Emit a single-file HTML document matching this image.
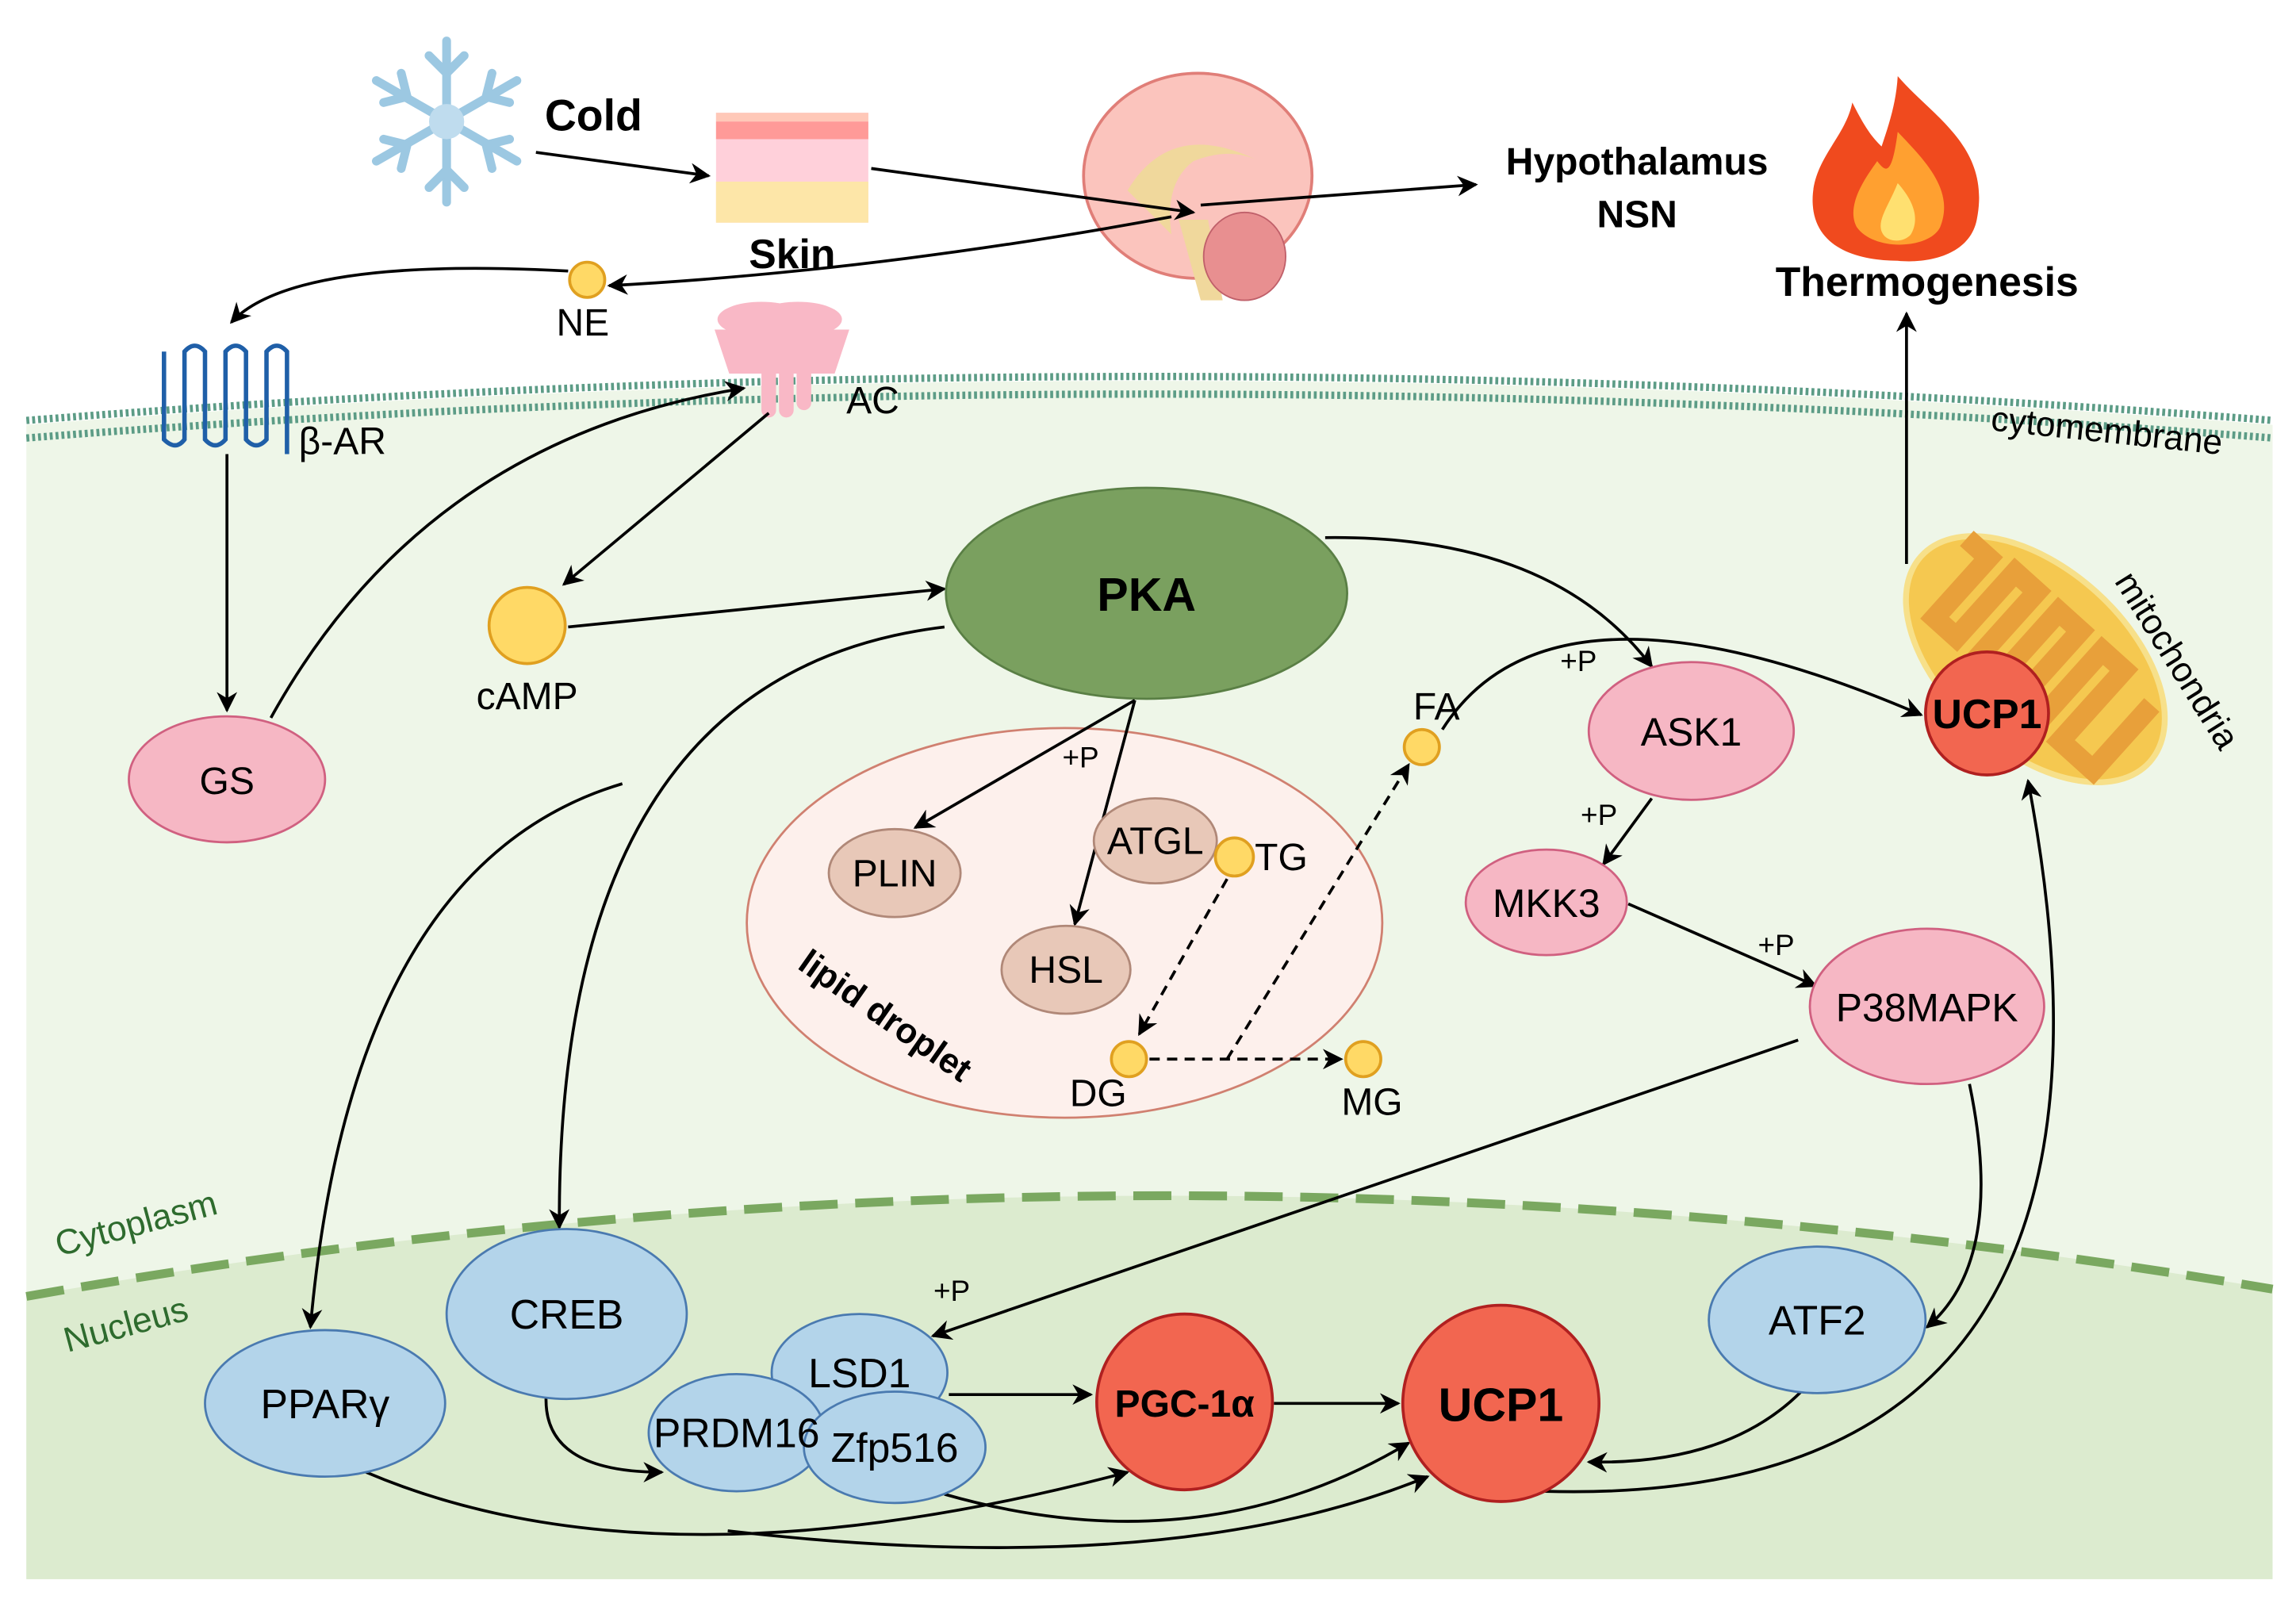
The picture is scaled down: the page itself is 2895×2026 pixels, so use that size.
<!DOCTYPE html>
<html><head><meta charset="utf-8"><style>html,body{margin:0;padding:0;background:#fff}svg{display:block}text{font-family:"Liberation Sans",sans-serif}</style></head><body>
<svg width="2895" height="2026" viewBox="0 0 1568 1097" preserveAspectRatio="none" xmlns="http://www.w3.org/2000/svg">
<defs>
<marker id="b" viewBox="0 0 10 10" refX="9" refY="5" markerWidth="14" markerHeight="14" orient="auto" markerUnits="userSpaceOnUse"><path d="M0,0 L10,5 L0,10 L3,5 z" fill="#000"/></marker>
</defs>
<rect width="1568" height="1097" fill="#fff"/>
<path d="M18,290 Q785,230 1552,290 L1552,1078 L18,1078 Z" fill="#eef6e8"/>
<path d="M18,885 Q780,750 1552,880 L1552,1078 L18,1078 Z" fill="#dcebcf"/>
<path d="M18,885 Q780,750 1552,880" fill="none" stroke="#7aa860" stroke-width="6" stroke-dasharray="26,12"/>
<path d="M18,287 Q785,227 1552,287" fill="none" stroke="#5c9c86" stroke-width="5" stroke-dasharray="2,2"/>
<path d="M18,299 Q785,239 1552,299" fill="none" stroke="#5c9c86" stroke-width="5" stroke-dasharray="2,2"/>
<text x="1438" y="302" font-size="24" text-anchor="middle" transform="rotate(6 1438 302)">cytomembrane</text>
<text x="95" y="843" font-size="24" fill="#2e6b2e" text-anchor="middle" transform="rotate(-15 95 843)">Cytoplasm</text>
<text x="88" y="912" font-size="24" fill="#2e6b2e" text-anchor="middle" transform="rotate(-15 88 912)">Nucleus</text>

<g stroke="#9cc8e2" stroke-width="6" stroke-linecap="round" fill="none">
<line x1="305" y1="28" x2="305" y2="138"/><line x1="257" y1="55" x2="353" y2="110"/><line x1="257" y1="110" x2="353" y2="55"/>
<path d="M293,38 L305,50 L317,38 M293,128 L305,116 L317,128 M262,70 L278,66 L274,50 M348,95 L332,99 L336,115 M262,95 L278,99 L274,115 M348,70 L332,66 L336,50"/>
</g>
<circle cx="305" cy="83" r="12" fill="#bfdcee"/>
<text x="372" y="89" font-size="30" font-weight="bold">Cold</text>
<rect x="489" y="77" width="104" height="75" fill="#ffd0da"/>
<rect x="489" y="77" width="104" height="6" fill="#ffc8b8"/>
<rect x="489" y="83" width="104" height="12" fill="#ff9a98"/>
<rect x="489" y="124" width="104" height="28" fill="#fde6a8"/>
<text x="541" y="183" font-size="28" font-weight="bold" text-anchor="middle">Skin</text>
<ellipse cx="818" cy="120" rx="78" ry="70" fill="#fbc4bd" stroke="#e07e78" stroke-width="2"/>
<path d="M770,130 Q800,80 860,110 Q840,100 815,110 Q795,125 800,160 Z" fill="#f0d89c"/>
<path d="M805,150 L820,205 L835,205 L825,150 Z" fill="#f0d89c"/>
<ellipse cx="850" cy="175" rx="28" ry="30" fill="#e88f90" stroke="#c0606a"/>
<path d="M1296,52 C1320,80 1360,100 1350,150 C1345,175 1315,180 1296,178 C1270,178 1240,170 1238,140 C1236,110 1260,95 1265,70 C1275,90 1280,95 1285,100 C1290,85 1295,70 1296,52 Z" fill="#f04a1e"/>
<path d="M1296,90 C1315,110 1335,130 1325,155 C1318,170 1280,172 1268,155 C1260,140 1275,120 1282,110 C1288,118 1292,120 1296,90 Z" fill="#ffa030"/>
<path d="M1296,125 C1305,135 1312,148 1305,160 C1300,166 1288,166 1285,158 C1282,150 1290,140 1296,125 Z" fill="#ffe070"/>
<text x="1118" y="119" font-size="26" font-weight="bold" text-anchor="middle">Hypothalamus</text>
<text x="1118" y="155" font-size="26" font-weight="bold" text-anchor="middle">NSN</text>
<text x="1316" y="202" font-size="28" font-weight="bold" text-anchor="middle">Thermogenesis</text>

<path d="M112,240 L112,300 Q120,308 126,300 L126,240 Q133,232 140,240 L140,300 Q147,308 154,300 L154,240 Q161,232 168,240 L168,300 Q175,308 182,300 L182,240 Q189,232 196,240 L196,310" fill="none" stroke="#1f5fa8" stroke-width="3"/>
<text x="204" y="310" font-size="26">β-AR</text>
<g fill="#f9b8c6">
<ellipse cx="520" cy="218" rx="30" ry="12"/><ellipse cx="545" cy="218" rx="30" ry="12"/>
<path d="M488,225 L580,225 L570,255 L498,255 Z"/>
<rect x="520" y="250" width="10" height="35" rx="5"/><rect x="532" y="250" width="10" height="35" rx="5"/><rect x="544" y="250" width="10" height="30" rx="5"/>
</g>
<text x="578" y="282" font-size="26">AC</text>
<circle cx="401" cy="191" r="12" fill="#ffd966" stroke="#e0a020" stroke-width="2"/>
<text x="398" y="229" font-size="26" text-anchor="middle">NE</text>

<g stroke="#000" stroke-width="2" fill="none" marker-end="url(#b)">
<line x1="366" y1="104" x2="484" y2="120"/>
<line x1="595" y1="115" x2="815" y2="145"/>
<line x1="820" y1="140" x2="1008" y2="126"/>
<path d="M800,148 Q600,185 416,195"/>
<path d="M388,185 Q200,175 158,220"/>
<line x1="155" y1="310" x2="155" y2="485"/>
<path d="M185,490 Q290,300 508,265"/>
<line x1="525" y1="282" x2="385" y2="399"/>
<line x1="388" y1="428" x2="645" y2="402"/>
<path d="M645,428 Q380,460 382,838"/>
<path d="M425,535 Q240,590 212,906"/>
<path d="M985,498 Q1060,380 1312,488"/>
<path d="M905,367 Q1060,365 1128,455"/>
<line x1="1128" y1="545" x2="1095" y2="590"/>
<line x1="1112" y1="617" x2="1240" y2="673"/>
<line x1="1228" y1="710" x2="637" y2="912"/>
<path d="M1345,740 Q1370,860 1316,906"/>
<path d="M1230,950 Q1180,1000 1085,998"/>
<path d="M1055,1018 Q1480,1030 1385,533"/>
<line x1="1302" y1="385" x2="1302" y2="214"/>
<line x1="648" y1="952" x2="745" y2="952"/>
<line x1="870" y1="958" x2="955" y2="958"/>
<path d="M373,952 Q370,1005 452,1005"/>
<path d="M250,1005 Q450,1090 770,1005"/>
<path d="M497,1045 Q800,1080 975,1008"/>
<path d="M645,1020 Q820,1070 962,985"/>
</g>

<g transform="rotate(42 1390 450)">
<ellipse cx="1390" cy="450" rx="105" ry="62" fill="#f5c850" stroke="#f7e08a" stroke-width="4"/>
<path d="M1300,420 L1320,420 L1320,475 L1340,475 L1340,415 L1360,415 L1360,485 L1380,485 L1380,415 L1400,415 L1400,485 L1420,485 L1420,415 L1440,415 L1440,480 L1470,480 L1470,420" fill="none" stroke="#e8a03a" stroke-width="14"/>
</g>
<text x="1480" y="455" font-size="24" text-anchor="middle" transform="rotate(58 1480 455)">mitochondria</text>
<circle cx="1357" cy="487" r="42" fill="#f26650" stroke="#b02020" stroke-width="2"/>
<text x="1357" y="497" font-size="28" font-weight="bold" text-anchor="middle">UCP1</text>

<ellipse cx="783" cy="405" rx="137" ry="72" fill="#7aa05f" stroke="#5a7f45" stroke-width="1.5"/>
<text x="783" y="417" font-size="32" font-weight="bold" text-anchor="middle">PKA</text>
<circle cx="360" cy="427" r="26" fill="#ffd966" stroke="#e0a020" stroke-width="2"/>
<text x="360" y="484" font-size="26" text-anchor="middle">cAMP</text>

<ellipse cx="155" cy="532" rx="67" ry="43" fill="#f6b7c4" stroke="#d06080" stroke-width="1.5"/>
<text x="155" y="542" font-size="26" text-anchor="middle">GS</text>

<ellipse cx="727" cy="630" rx="217" ry="133" fill="#fdf0ec" stroke="#d08070" stroke-width="1.5"/>
<g stroke="#000" stroke-width="2" fill="none" marker-end="url(#b)">
<line x1="775" y1="478" x2="625" y2="565"/>
<line x1="775" y1="478" x2="734" y2="631"/>
</g>
<g fill="#e8c8b8" stroke="#b08878" stroke-width="1.5">
<ellipse cx="611" cy="596" rx="45" ry="30"/><ellipse cx="789" cy="574" rx="42" ry="29"/><ellipse cx="728" cy="662" rx="44" ry="30"/>
</g>
<g font-size="26" text-anchor="middle">
<text x="611" y="605">PLIN</text><text x="789" y="583">ATGL</text><text x="728" y="671">HSL</text>
</g>
<text x="600" y="700" font-size="24" font-weight="bold" text-anchor="middle" transform="rotate(35 600 700)">lipid droplet</text>
<g stroke="#000" stroke-width="2" fill="none" stroke-dasharray="7,5" marker-end="url(#b)">
<line x1="838" y1="600" x2="778" y2="706"/>
<line x1="785" y1="723" x2="916" y2="723"/>
<line x1="838" y1="723" x2="962" y2="522"/>
</g>
<g fill="#ffd966" stroke="#e0a020" stroke-width="2">
<circle cx="843" cy="585" r="13"/><circle cx="771" cy="723" r="12"/><circle cx="931" cy="723" r="12"/><circle cx="971" cy="510" r="12"/>
</g>
<g font-size="26" text-anchor="middle">
<text x="875" y="594">TG</text><text x="750" y="755">DG</text><text x="937" y="761">MG</text><text x="981" y="491">FA</text>
</g>
<g font-size="20" text-anchor="middle">
<text x="738" y="524">+P</text><text x="1078" y="458">+P</text><text x="1092" y="563">+P</text><text x="1213" y="652">+P</text><text x="650" y="888">+P</text>
</g>

<g fill="#f6b7c4" stroke="#d06080" stroke-width="1.5">
<ellipse cx="1155" cy="499" rx="70" ry="47"/><ellipse cx="1056" cy="616" rx="55" ry="36"/><ellipse cx="1316" cy="687" rx="80" ry="53"/>
</g>
<g font-size="27" text-anchor="middle">
<text x="1155" y="509">ASK1</text><text x="1056" y="626">MKK3</text><text x="1316" y="697">P38MAPK</text>
</g>

<g fill="#b3d4ea" stroke="#4a7ab0" stroke-width="1.5">
<ellipse cx="387" cy="897" rx="82" ry="58"/><ellipse cx="222" cy="958" rx="82" ry="50"/><ellipse cx="1241" cy="901" rx="74" ry="50"/>
<ellipse cx="587" cy="937" rx="60" ry="40"/><ellipse cx="503" cy="978" rx="60" ry="40"/><ellipse cx="611" cy="988" rx="62" ry="38"/>
</g>
<g font-size="28" text-anchor="middle">
<text x="387" y="907">CREB</text><text x="222" y="968">PPARγ</text><text x="1241" y="911">ATF2</text>
<text x="587" y="947">LSD1</text><text x="503" y="988">PRDM16</text><text x="611" y="998">Zfp516</text>
</g>
<circle cx="809" cy="957" r="60" fill="#f26650" stroke="#b02020" stroke-width="2"/>
<text x="809" y="967" font-size="26" font-weight="bold" text-anchor="middle">PGC-1α</text>
<circle cx="1025" cy="958" r="67" fill="#f26650" stroke="#b02020" stroke-width="2"/>
<text x="1025" y="970" font-size="32" font-weight="bold" text-anchor="middle">UCP1</text>
</svg>
</body></html>
